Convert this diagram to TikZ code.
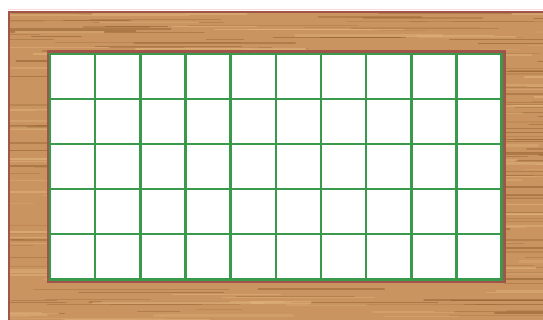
\documentclass[tikz,border=0pt]{standalone}
\usetikzlibrary{calc}
\definecolor{wood}{HTML}{C9945F}
\definecolor{woodlight}{HTML}{E2B47E}
\definecolor{wooddark}{HTML}{93602F}
\definecolor{rim}{HTML}{A0544A}
\definecolor{lines}{HTML}{3A9A4C}

\begin{document}
\begin{tikzpicture}[x=1pt,y=1pt]
  \useasboundingbox (0,0) rectangle (543,320);
  \pgfmathsetseed{17}
  % Board
  \fill[wood] (8,0) rectangle (543,309);
  \begin{scope}
    \clip (8,0) rectangle (543,309);
    % grain
    \foreach \k in {1,...,260}{
      \pgfmathsetmacro{\yy}{rnd*309}
      \pgfmathsetmacro{\xx}{-60+rnd*600}
      \pgfmathsetmacro{\ll}{30+rnd*180}
      \pgfmathsetmacro{\op}{0.15+rnd*0.45}
      \pgfmathsetmacro{\lw}{0.3+rnd*1.4}
      \draw[wooddark, opacity=\op, line width=\lw pt, line cap=round] (\xx,\yy) -- ++(\ll,0);
    }
    \foreach \k in {1,...,160}{
      \pgfmathsetmacro{\yy}{rnd*309}
      \pgfmathsetmacro{\xx}{-60+rnd*600}
      \pgfmathsetmacro{\ll}{30+rnd*160}
      \pgfmathsetmacro{\op}{0.2+rnd*0.5}
      \pgfmathsetmacro{\lw}{0.5+rnd*2}
      \draw[woodlight, opacity=\op, line width=\lw pt, line cap=round] (\xx,\yy) -- ++(\ll,0);
    }
  \end{scope}
  % Rim of the board
  \draw[red!15, line width=1pt] (8,310) -- (543,310);
  \draw[rim, line width=2pt] (9,0) -- (9,308) -- (543,308);
  % Paper
  \fill[white] (48,38) rectangle (504.7,268);
  \draw[rim, line width=3pt] (48,38) rectangle (504.7,268);
  % Grid
  \foreach \c in {0,...,10}
    \draw[lines, line width=2.5pt] (50+\c*45.17,40.7) -- (50+\c*45.17,266);
  \foreach \r in {0,...,5}
    \draw[lines, line width=2.5pt] (48.8,40.7+\r*45.06) -- (502.9,40.7+\r*45.06);
\end{tikzpicture}
\end{document}
